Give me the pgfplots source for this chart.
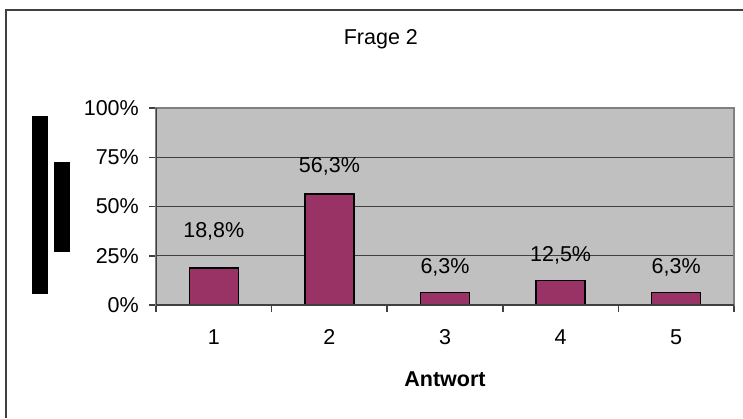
\documentclass[border=0pt]{standalone}
\usepackage{fontspec}
\setmainfont{Liberation Sans}
\usepackage{pgfplots}
\pgfplotsset{compat=1.18}
\definecolor{barplum}{HTML}{993366}
\definecolor{plotgray}{HTML}{C0C0C0}
\definecolor{bordergray}{HTML}{808080}
\definecolor{axisdark}{HTML}{404040}

\begin{document}
\begin{tikzpicture}[x=1pt,y=1pt,font=\fontsize{21.5}{25}\selectfont]
\useasboundingbox (0,0) rectangle (743,418);
% frame, only its top and left edges show
\draw[axisdark, line width=2pt] (6,0) -- (6,408) -- (743,408);
% blocks left where the y label was
\fill[black] (32,124) rectangle (48,302);
\fill[black] (54,166) rectangle (70,256);

\begin{axis}[
  at={(156pt,113pt)}, anchor=south west,
  scale only axis, width=578pt, height=197pt,
  ybar, bar width=49pt,
  xmin=0.5, xmax=5.5, ymin=0, ymax=100,
  axis background/.style={fill=plotgray},
  axis line style={draw=bordergray, line width=1.5pt},
  ymajorgrids, grid style={axisdark, line width=1.2pt},
  tick align=outside, tick pos=left,
  major tick length=7pt,
  tick style={axisdark, line width=1.5pt},
  ytick={0,25,50,75,100},
  yticklabels={0\%,25\%,50\%,75\%,100\%},
  yticklabel style={anchor=east, inner sep=0pt, xshift=-10pt},
  xtick={0.5,1.5,2.5,3.5,4.5,5.5},
  xticklabels={},
  extra x ticks={1,2,3,4,5},
  extra x tick labels={1,2,3,4,5},
  extra x tick style={major tick length=0pt},
  xticklabel style={anchor=base, inner sep=0pt, yshift=-39pt},
  title={Frage 2},
  title style={at={(axis description cs:0.389,1.320)}, anchor=base, inner sep=0pt, yshift=-6pt},
  xlabel={\textbf{Antwort}},
  xlabel style={at={(axis description cs:0.5,-0.416)}, anchor=base, inner sep=0pt},
]
\addplot[fill=barplum, draw=black, line width=1.5pt,
  nodes near coords, point meta=explicit symbolic,
  every node near coord/.append style={anchor=base, inner sep=0pt, yshift=19pt, black}]
  coordinates {(1,18.75)[\raisebox{12pt}{18,8\%}] (2,56.25)[\raisebox{3pt}{56,3\%}] (3,6.25)[6,3\%]
               (4,12.5)[12,5\%] (5,6.25)[6,3\%]};
\draw[axisdark, line width=1.5pt] (rel axis cs:0,1) -- (rel axis cs:0,0) -- (rel axis cs:1,0);
\end{axis}
\end{tikzpicture}
\end{document}
